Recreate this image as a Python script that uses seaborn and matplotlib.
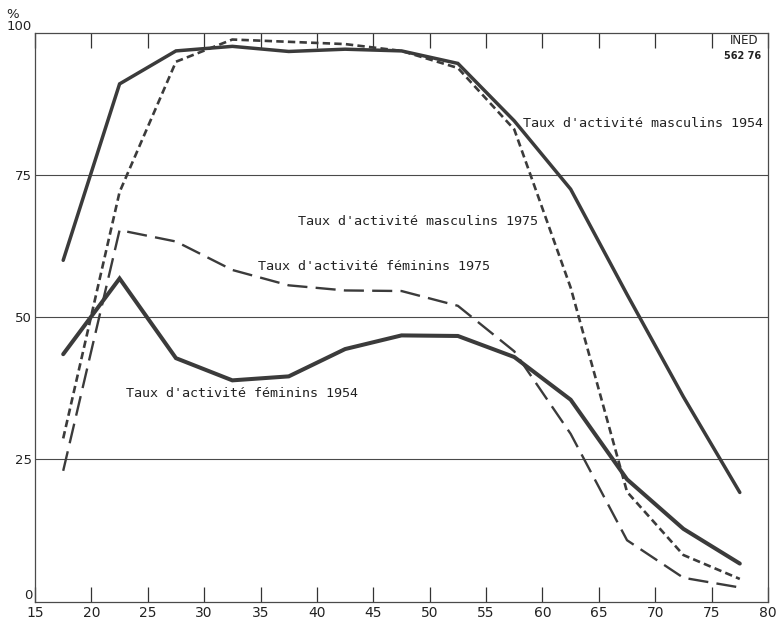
import matplotlib
matplotlib.use("Agg")
import matplotlib.pyplot as plt
import seaborn as sns
import pandas as pd

# ---- data ----
ages = [17.5, 22.5, 27.5, 32.5, 37.5, 42.5, 47.5, 52.5, 57.5, 62.5, 67.5, 72.5, 77.5]
masc_1954 = [60.0, 91.0, 96.8, 97.6, 96.7, 97.1, 96.8, 94.6, 84.5, 72.5, 54.0, 36.0, 19.2]
masc_1975 = [28.7, 72.0, 94.9, 98.8, 98.4, 98.0, 96.8, 93.8, 83.0, 55.2, 19.3, 8.2, 4.0]
fem_1975 = [23.0, 65.3, 63.3, 58.3, 55.6, 54.7, 54.6, 52.0, 44.0, 29.5, 10.8, 4.2, 2.5]
fem_1954 = [43.5, 56.8, 42.8, 38.9, 39.6, 44.4, 46.8, 46.7, 43.0, 35.5, 21.5, 12.8, 6.7]

x_ticks = [15, 20, 25, 30, 35, 40, 45, 50, 55, 60, 65, 70, 75, 80]
y_ticks = [0, 25, 50, 75, 100]
y_ticklabels = ["0", "25", "50", "75", "100"]

label_m54 = "Taux d'activité masculins 1954"
label_m75 = "Taux d'activité masculins 1975"
label_f75 = "Taux d'activité féminins 1975"
label_f54 = "Taux d'activité féminins 1954"

sns.set_style("white")
plt.rcParams["font.family"] = ["DejaVu Sans"]

W, H = 779, 622
fig = plt.figure(figsize=(W / 100, H / 100), dpi=100)
L, R, T, B = 35, 768, 32.7, 601.7
ax = fig.add_axes([L / W, 1 - B / H, (R - L) / W, (B - T) / H])

line_color = "#3b3b3b"
df = pd.DataFrame({"age": ages, "m54": masc_1954, "m75": masc_1975,
                   "f75": fem_1975, "f54": fem_1954})

sns.lineplot(data=df, x="age", y="m54", ax=ax, color=line_color, lw=2.5,
             solid_joinstyle="miter")
sns.lineplot(data=df, x="age", y="f54", ax=ax, color=line_color, lw=2.9,
             solid_joinstyle="miter")
sns.lineplot(data=df, x="age", y="m75", ax=ax, color=line_color, lw=1.9,
             linestyle=(0, (2.8, 1.6)))
sns.lineplot(data=df, x="age", y="f75", ax=ax, color=line_color, lw=1.7,
             linestyle=(0, (8.5, 3.5)))

ax.set_xlim(15, 80)
ax.set_ylim(0, 100)
ax.set_xlabel("")
ax.set_ylabel("")

ax.set_xticks(x_ticks)
ax.set_xticklabels([str(v) for v in x_ticks], fontsize=10, color="#222222")
ax.set_yticks(y_ticks)
ax.set_yticklabels(y_ticklabels, fontsize=9.5, color="#222222")
ax.tick_params(axis="x", direction="in", length=11, width=0.9, color="#333333",
               top=True, bottom=True, pad=3)
ax.tick_params(axis="y", length=0, pad=2)
ylabs = ax.get_yticklabels()
ylabs[0].set_va("bottom")
ylabs[-1].set_va("bottom")

for v in [25, 50, 75]:
    ax.axhline(v, color="#4a4a4a", lw=0.8, zorder=0)

for s in ax.spines.values():
    s.set_visible(True)
    s.set_color("#4a4a4a")
    s.set_linewidth(0.9)

mono = "DejaVu Sans Mono"
fs = 9.6
ax.text(58.3, 84.0, label_m54, family=mono, fontsize=fs, va="center", ha="left", color="#222222")
ax.text(38.3, 66.9, label_m75, family=mono, fontsize=fs, va="center", ha="left", color="#222222")
ax.text(34.8, 58.9, label_f75, family=mono, fontsize=fs, va="center", ha="left", color="#222222")
ax.text(23.1, 36.6, label_f54, family=mono, fontsize=fs, va="center", ha="left", color="#222222")

fig.text(13 / W, 1 - 14 / H, "%", fontsize=9.5, ha="center", va="center", color="#222222")
fig.text(744 / W, 1 - 41 / H, "INED", fontsize=8.5, ha="center", va="center",
         color="#222222", family="DejaVu Sans")
fig.text(743 / W, 1 - 56 / H, "562 76", fontsize=7, ha="center", va="center",
         color="#222222", fontweight="bold")

fig.savefig("out.png", dpi=100)
